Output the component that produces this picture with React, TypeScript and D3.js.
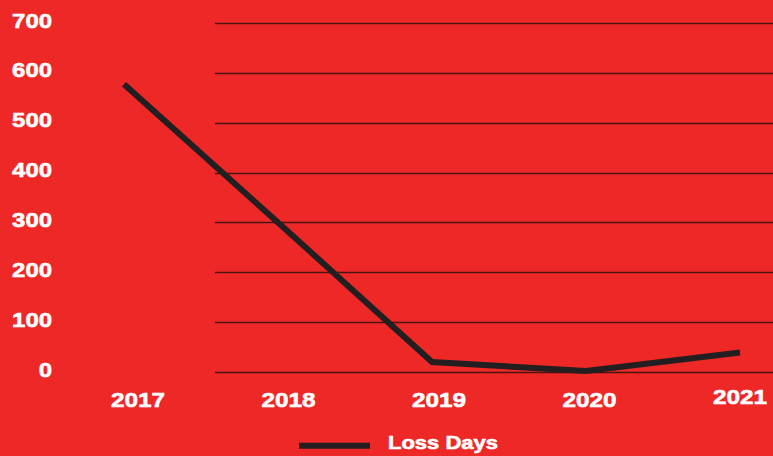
import React from "react";
import * as d3 from "d3";

const years = [2017, 2018, 2019, 2020, 2021];
const lossDays = [577, 300, 20, 2, 39];
const yTicks = [0, 100, 200, 300, 400, 500, 600, 700];
const seriesName = "Loss Days";

const W = 773;
const H = 456;
const BG = "#EE2727";
const INK = "#231F20";
const FONT = "'Liberation Sans', Arial, Helvetica, sans-serif";

export default function App() {
  const y = d3.scaleLinear().domain([0, 700]).range([372, 23]);
  const xLabel = d3.scaleLinear().domain([2017, 2021]).range([138, 740]);
  const xLine = d3.scaleLinear().domain([2017, 2021]).range([124, 740]);
  const line = d3
    .line<number>()
    .x((_, i) => xLine(years[i]))
    .y((d) => y(d));

  const textStyle = {
    fill: "#fff",
    stroke: "#fff",
    strokeWidth: 0.6,
    fontFamily: FONT,
    fontWeight: "bold" as const,
  };

  return (
    <svg
      width={W}
      height={H}
      style={{ position: "absolute", left: 0, top: 0, display: "block" }}
    >
      <rect x={0} y={0} width={W} height={H} fill={BG} />
      {yTicks.map((t) => (
        <line
          key={"g" + t}
          x1={215}
          x2={W}
          y1={Math.round(y(t)) + 0.5}
          y2={Math.round(y(t)) + 0.5}
          stroke="#4a1412"
          strokeWidth={1.3}
        />
      ))}
      {yTicks.map((t) => {
        const s = String(t);
        return (
          <text
            key={"yl" + t}
            x={52 - s.length * 13.3}
            y={y(t) + 4.5}
            style={textStyle}
            fontSize={21}
            textLength={s.length * 13.3}
            lengthAdjust="spacingAndGlyphs"
          >
            {s}
          </text>
        );
      })}
      {years.map((yr, i) => {
        const s = String(yr);
        const w = s.length * 13.5;
        return (
          <text
            key={"xl" + yr}
            x={xLabel(yr) - w / 2}
            y={i === years.length - 1 ? 404 : 406.5}
            style={textStyle}
            fontSize={21}
            textLength={w}
            lengthAdjust="spacingAndGlyphs"
          >
            {s}
          </text>
        );
      })}
      <path
        d={line(lossDays) || ""}
        fill="none"
        stroke={INK}
        strokeWidth={6}
        strokeLinejoin="miter"
        strokeLinecap="butt"
      />
      <line x1={299} x2={370} y1={445.7} y2={445.7} stroke={INK} strokeWidth={6} />
      <text
        x={388}
        y={449}
        style={textStyle}
        fontSize={18.5}
        textLength={110}
        lengthAdjust="spacingAndGlyphs"
      >
        {seriesName}
      </text>
    </svg>
  );
}
